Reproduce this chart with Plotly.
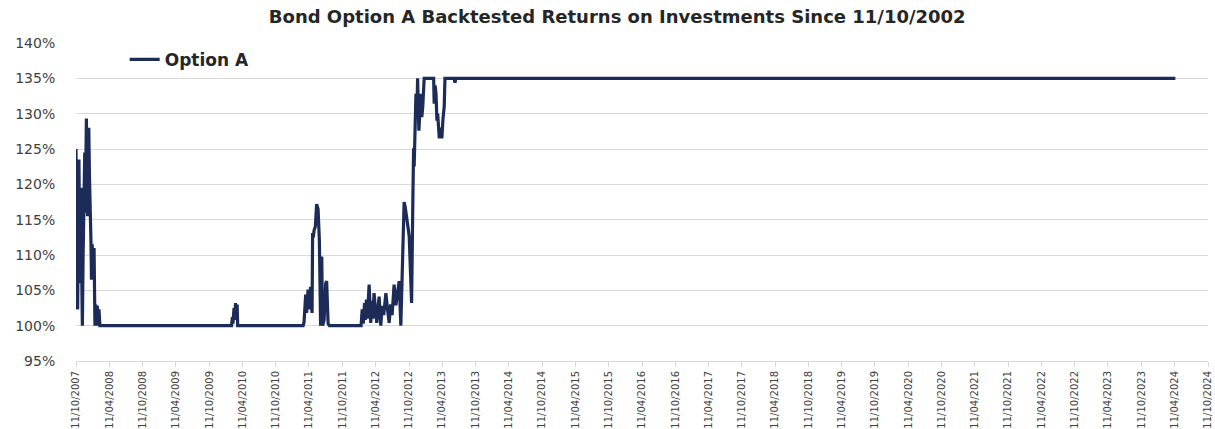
import plotly.graph_objects as go

title_text = "Bond Option A Backtested Returns on Investments Since 11/10/2002"
series_name = "Option A"

dates = [
    "2007-10-11", "2007-10-14", "2007-10-17", "2007-10-20", "2007-10-23", "2007-10-27",
    "2007-10-30", "2007-11-02", "2007-11-05", "2007-11-08", "2007-11-11", "2007-11-15",
    "2007-11-19", "2007-11-22", "2007-11-25", "2007-11-28", "2007-12-01", "2007-12-04",
    "2007-12-07", "2007-12-10", "2007-12-13", "2007-12-17", "2007-12-20", "2007-12-24",
    "2007-12-28", "2008-01-01", "2008-01-04", "2008-01-08", "2008-01-12", "2008-01-18",
    "2008-01-23", "2008-01-28", "2008-02-01", "2008-02-05", "2008-02-09", "2008-02-14",
    "2008-02-19",
    "2010-02-10", "2010-02-15", "2010-02-18", "2010-02-24", "2010-02-28", "2010-03-04",
    "2010-03-09", "2010-03-13", "2010-03-16",
    "2011-03-10", "2011-03-15", "2011-03-24", "2011-03-29", "2011-04-06", "2011-04-13",
    "2011-04-20", "2011-04-28", "2011-05-01", "2011-05-05", "2011-05-09", "2011-05-16",
    "2011-05-23", "2011-05-31", "2011-06-07", "2011-06-11", "2011-06-14", "2011-06-20",
    "2011-06-25", "2011-07-03", "2011-07-12", "2011-07-17", "2011-07-25", "2011-08-01",
    "2012-01-22", "2012-01-28", "2012-02-03", "2012-02-10", "2012-02-14", "2012-02-20",
    "2012-02-25", "2012-03-06", "2012-03-15", "2012-03-22", "2012-03-27", "2012-04-02",
    "2012-04-09", "2012-04-17", "2012-04-24", "2012-04-30", "2012-05-09", "2012-05-17",
    "2012-05-25", "2012-06-06", "2012-06-15", "2012-06-24", "2012-07-02", "2012-07-10",
    "2012-07-21", "2012-07-31", "2012-08-08", "2012-08-18", "2012-08-27", "2012-09-06",
    "2012-09-14", "2012-09-20", "2012-09-29", "2012-10-05", "2012-10-12", "2012-10-18",
    "2012-10-25", "2012-11-01", "2012-11-05", "2012-11-08", "2012-11-12", "2012-11-18",
    "2012-11-23", "2012-11-27", "2012-12-04", "2012-12-10", "2012-12-15", "2012-12-20",
    "2012-12-25", "2013-01-02", "2013-02-23", "2013-02-26", "2013-03-03", "2013-03-08",
    "2013-03-13", "2013-03-17", "2013-03-22", "2013-03-26", "2013-04-02", "2013-04-09",
    "2013-04-15", "2013-04-22", "2013-04-26", "2013-06-15", "2013-06-20", "2013-06-25",
    "2024-04-15",
]

values = [
    125.0, 110.0, 103.5, 102.3, 112.0, 123.5,
    115.0, 106.0, 113.0, 119.5, 108.0, 100.0,
    110.0, 116.0, 119.0, 124.5, 116.0, 127.0,
    129.3, 122.0, 115.5, 124.0, 128.0, 121.0,
    117.5, 112.0, 106.5, 111.5, 106.5, 111.0,
    100.0, 103.0, 100.5, 102.8, 100.0, 102.3,
    100.0,
    100.0, 101.2, 100.3, 102.5, 100.8, 103.2,
    101.0, 103.0, 100.0,
    100.0, 100.5, 104.4, 101.8, 105.1, 102.3,
    105.5, 101.8, 113.1, 112.5, 113.5, 114.0,
    117.2, 116.5, 112.1, 106.5, 100.0, 109.8,
    100.0, 100.8, 106.0, 106.3, 100.3, 100.0,
    100.0, 102.3, 100.3, 103.2, 100.8, 103.7,
    101.0, 105.8, 100.4, 103.5, 101.0, 104.6,
    102.0, 100.4, 102.5, 104.1, 100.0, 102.8,
    101.5, 104.6, 102.3, 100.4, 103.0, 101.5,
    105.8, 102.9, 104.5, 106.3, 100.0, 110.3,
    117.5, 116.8, 115.5, 114.0, 112.6, 107.0,
    103.2, 118.0, 125.1, 122.5, 128.0, 132.8,
    130.0, 135.0, 127.6, 131.0, 132.8, 129.5,
    130.9, 135.0, 135.0, 131.4, 134.0, 132.8,
    129.0, 130.0, 127.0, 126.5, 128.0, 126.5,
    129.2, 131.0, 135.0, 135.0, 134.4, 135.0,
    135.0,
]

tick_dates = [
    "2007-10-11", "2008-04-11", "2008-10-11", "2009-04-11", "2009-10-11",
    "2010-04-11", "2010-10-11", "2011-04-11", "2011-10-11", "2012-04-11",
    "2012-10-11", "2013-04-11", "2013-10-11", "2014-04-11", "2014-10-11",
    "2015-04-11", "2015-10-11", "2016-04-11", "2016-10-11", "2017-04-11",
    "2017-10-11", "2018-04-11", "2018-10-11", "2019-04-11", "2019-10-11",
    "2020-04-11", "2020-10-11", "2021-04-11", "2021-10-11", "2022-04-11",
    "2022-10-11", "2023-04-11", "2023-10-11", "2024-04-11", "2024-10-11",
]
tick_labels = [
    "11/10/2007", "11/04/2008", "11/10/2008", "11/04/2009", "11/10/2009",
    "11/04/2010", "11/10/2010", "11/04/2011", "11/10/2011", "11/04/2012",
    "11/10/2012", "11/04/2013", "11/10/2013", "11/04/2014", "11/10/2014",
    "11/04/2015", "11/10/2015", "11/04/2016", "11/10/2016", "11/04/2017",
    "11/10/2017", "11/04/2018", "11/10/2018", "11/04/2019", "11/10/2019",
    "11/04/2020", "11/10/2020", "11/04/2021", "11/10/2021", "11/04/2022",
    "11/10/2022", "11/04/2023", "11/10/2023", "11/04/2024", "11/10/2024",
]

line_color = "#1D2B58"
grid_color = "#D9D9D9"
text_color = "#404040"

fig = go.Figure()
fig.add_trace(go.Scatter(
    x=dates, y=values, mode="lines", name="<b>" + series_name + "</b>",
    line=dict(color=line_color, width=3.2, shape="linear"),
))

fig.update_layout(
    width=1215, height=429,
    margin=dict(l=76, r=7, t=43, b=68, autoexpand=False),
    paper_bgcolor="white", plot_bgcolor="white",
    title=dict(text="<b>" + title_text + "</b>", x=0.508, xanchor="center",
               y=0.96, yanchor="middle",
               font=dict(family="DejaVu Sans", size=18, color="#262626")),
    showlegend=True,
    legend=dict(x=0.043, y=0.947, xanchor="left", yanchor="middle",
                bgcolor="rgba(0,0,0,0)",
                font=dict(family="DejaVu Sans", size=17, color="#262626"),
                itemwidth=30),
    font=dict(family="DejaVu Sans", color=text_color),
)
fig.update_xaxes(
    type="date", range=[tick_dates[0], tick_dates[-1]],
    tickmode="array", tickvals=tick_dates, ticktext=tick_labels,
    tickangle=-90, tickfont=dict(size=10, color=text_color),
    ticks="outside", ticklen=5, tickcolor=grid_color,
    showline=True, linecolor=grid_color, linewidth=1,
    showgrid=False, zeroline=False, automargin=False,
)
fig.update_yaxes(
    range=[95, 140], dtick=5, tick0=95, ticksuffix="%",
    tickfont=dict(size=14, color=text_color),
    ticks="outside", ticklen=17, tickcolor="rgba(0,0,0,0)",
    showgrid=True, gridcolor=grid_color, gridwidth=1,
    zeroline=False, showline=False, automargin=False,
)

fig.write_html(
    "out.html",
    config={"displayModeBar": False},
    post_script="document.body.style.margin='0px';document.body.style.overflow='hidden';",
)
